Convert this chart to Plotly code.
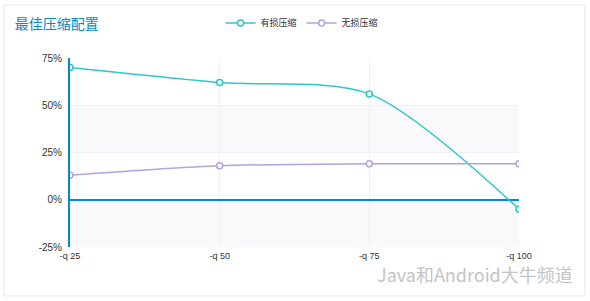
import plotly.graph_objects as go

categories = ["-q 25", "-q 50", "-q 75", "-q 100"]
lossy = [70, 62, 56, -5]
lossless = [13, 18, 19, 19]
y_ticks = [-25, 0, 25, 50, 75]
y_tick_labels = ["-25%", "0%", "25%", "50%", "75%"]

xpos = list(range(len(categories)))

fig = go.Figure()
fig.add_trace(go.Scatter(
    x=xpos, y=lossy, name="有损压缩", mode="lines+markers",
    line=dict(color="#2ec7c9", width=1.5, shape="spline", smoothing=0.8),
    marker=dict(symbol="circle", size=6, color="white", line=dict(color="#2ec7c9", width=1.5)),
))
fig.add_trace(go.Scatter(
    x=xpos, y=lossless, name="无损压缩", mode="lines+markers",
    line=dict(color="#b6a2de", width=1.5, shape="spline", smoothing=0.8),
    marker=dict(symbol="circle", size=6, color="white", line=dict(color="#b6a2de", width=1.5)),
))

shapes = []
for y0, y1 in [(25, 50), (-25, 0)]:
    shapes.append(dict(type="rect", xref="paper", yref="y", x0=0, x1=1, y0=y0, y1=y1,
                       fillcolor="#f9f8fb", line=dict(width=0), layer="below"))
shapes.append(dict(type="rect", xref="paper", yref="paper", x0=-0.147, x1=1.147, y0=-0.259, y1=1.28,
                   line=dict(color="#e8e8e8", width=1), fillcolor="rgba(0,0,0,0)", layer="below"))

fig.update_layout(
    width=590, height=301,
    margin=dict(l=70, r=71, t=58, b=54, autoexpand=False),
    paper_bgcolor="white", plot_bgcolor="white",
    shapes=shapes,
    title=dict(text="最佳压缩配置", xref="container", yref="container",
               x=0.025, xanchor="left", y=0.92, yanchor="middle",
               font=dict(family="Noto Sans CJK SC", size=14, color="#008acd")),
    legend=dict(orientation="h", xref="container", yref="container",
                x=0.512, xanchor="center", y=0.924, yanchor="middle",
                font=dict(family="Noto Sans CJK SC", size=9, color="#333"),
                itemwidth=30, bgcolor="rgba(0,0,0,0)"),
    xaxis=dict(range=[0, 3], tickvals=xpos, ticktext=categories,
               showgrid=True, gridcolor="#f0f0f0", gridwidth=1,
               zeroline=False, showline=False, ticks="", ticklabelstandoff=2,
               tickfont=dict(family="Liberation Sans", size=9, color="#333")),
    yaxis=dict(range=[-25, 75], tickvals=y_ticks, ticktext=y_tick_labels,
               showgrid=True, gridcolor="#f0f0f0", gridwidth=1,
               zeroline=True, zerolinecolor="#008acd", zerolinewidth=2,
               showline=True, linecolor="#008acd", linewidth=2,
               ticks="", ticklabelstandoff=4,
               tickfont=dict(family="Liberation Sans", size=10, color="#333")),
    showlegend=True,
)

fig.add_annotation(text="Java和Android大牛频道", xref="paper", yref="paper",
                   x=(574 - 70) / 449, y=(247 - 274) / 189, xanchor="right", yanchor="middle",
                   showarrow=False, borderpad=0,
                   font=dict(family="Noto Sans CJK SC", size=18, color="#c4c4c4"))

fig.write_html("out.html")
